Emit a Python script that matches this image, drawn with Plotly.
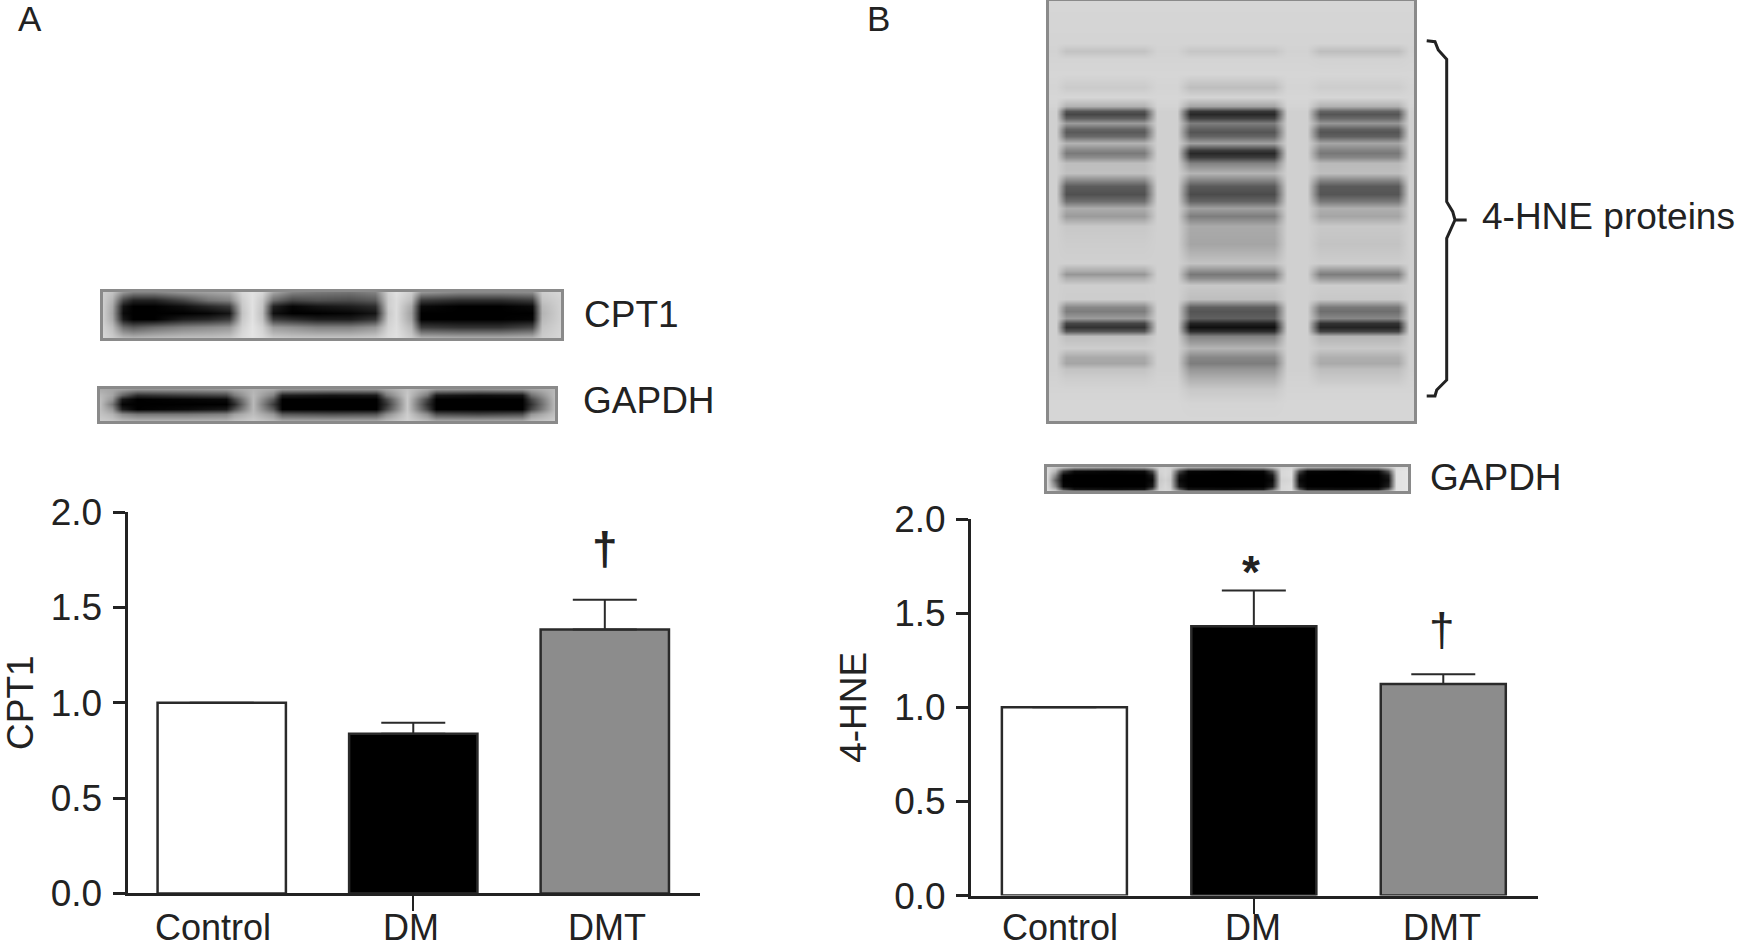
import plotly.graph_objects as go

W, H = 1738, 949

groups = ["Control", "DM", "DMT"]
colors = ["#ffffff", "#000000", "#8c8c8c"]

cpt1_values = [1.0, 0.837, 1.384]
cpt1_err = [0, 0.058, 0.156]
hne_values = [1.0, 1.43, 1.124]
hne_err = [0, 0.19, 0.052]

y_ticks = [0, 0.5, 1.0, 1.5, 2.0]

# blot grey levels (0 black, 255 white)
cpt1_x = [48, 70, 95, 120, 170, 240, 300, 350, 380, 405, 430, 455, 500, 560, 640, 700, 730, 750, 785, 810, 900, 1000, 1075, 1100, 1145]
cpt1_y = [65, 90, 110, 130, 150, 175, 210]
cpt1_z = [
    [205, 195, 150, 130, 130, 150, 160, 170, 215, 225, 215, 165, 130, 120, 115, 130, 210, 225, 205, 150, 135, 135, 140, 205, 215],
    [205, 180, 70, 35, 35, 70, 115, 130, 205, 225, 200, 110, 70, 80, 75, 90, 205, 220, 190, 60, 45, 45, 60, 195, 210],
    [205, 170, 20, 0, 0, 15, 40, 60, 200, 225, 195, 35, 5, 20, 30, 45, 205, 220, 170, 10, 0, 0, 10, 185, 210],
    [205, 165, 10, 0, 0, 0, 5, 20, 195, 225, 190, 15, 0, 0, 5, 20, 200, 220, 160, 0, 0, 0, 0, 180, 210],
    [205, 170, 25, 0, 0, 30, 40, 60, 200, 225, 195, 60, 45, 30, 30, 55, 205, 220, 165, 0, 0, 0, 5, 185, 210],
    [210, 190, 110, 90, 110, 130, 140, 150, 210, 228, 210, 155, 145, 130, 130, 150, 212, 222, 185, 60, 50, 50, 70, 195, 212],
    [215, 205, 190, 185, 190, 195, 195, 200, 220, 228, 220, 205, 200, 200, 200, 205, 220, 225, 205, 185, 180, 180, 185, 205, 215],
]

gapdh_a_x = [42, 70, 95, 130, 250, 345, 365, 410, 458, 480, 600, 705, 728, 780, 828, 850, 950, 1055, 1078, 1135]
gapdh_a_y = [350, 370, 385, 400, 418, 435, 460]
gapdh_a_z = [
    [170, 165, 160, 150, 150, 155, 165, 180, 170, 150, 145, 145, 165, 195, 170, 150, 145, 150, 165, 185],
    [185, 165, 100, 45, 60, 70, 120, 185, 130, 30, 20, 25, 120, 200, 120, 25, 15, 20, 110, 190],
    [190, 150, 25, 0, 5, 10, 70, 185, 90, 0, 0, 0, 70, 200, 70, 0, 0, 0, 70, 190],
    [190, 120, 5, 0, 0, 0, 40, 185, 60, 0, 0, 0, 50, 200, 50, 0, 0, 0, 50, 190],
    [190, 150, 30, 0, 10, 25, 80, 185, 90, 0, 0, 0, 70, 200, 70, 0, 0, 0, 70, 190],
    [195, 180, 140, 120, 120, 130, 160, 190, 150, 90, 80, 85, 140, 205, 140, 80, 70, 80, 150, 195],
    [205, 200, 190, 185, 185, 185, 195, 205, 190, 175, 175, 175, 190, 210, 190, 175, 175, 175, 195, 205],
]

gapdh_b_x = [48, 72, 95, 130, 250, 340, 365, 388, 405, 420, 448, 475, 590, 700, 728, 755, 785, 810, 835, 950, 1050, 1078, 1105, 1140]
gapdh_b_y = [1398, 1412, 1425, 1442, 1460, 1470, 1478]
gapdh_b_z = [
    [215, 205, 190, 170, 165, 170, 190, 210, 215, 210, 190, 170, 165, 170, 190, 212, 215, 190, 170, 165, 170, 195, 220, 225],
    [220, 180, 60, 10, 5, 10, 70, 210, 215, 210, 70, 5, 0, 5, 70, 215, 220, 70, 5, 0, 10, 80, 225, 230],
    [220, 140, 5, 0, 0, 0, 25, 205, 215, 205, 25, 0, 0, 0, 25, 215, 220, 25, 0, 0, 0, 30, 225, 230],
    [220, 100, 0, 0, 0, 0, 10, 200, 210, 200, 10, 0, 0, 0, 10, 210, 215, 10, 0, 0, 0, 15, 225, 230],
    [220, 140, 5, 0, 0, 0, 25, 205, 215, 205, 25, 0, 0, 0, 25, 215, 220, 25, 0, 0, 0, 30, 225, 230],
    [220, 185, 70, 20, 15, 20, 90, 210, 215, 210, 90, 20, 15, 25, 95, 215, 220, 90, 20, 15, 25, 100, 225, 230],
    [225, 215, 190, 175, 170, 175, 195, 215, 220, 215, 195, 175, 175, 175, 195, 220, 225, 195, 175, 175, 180, 200, 230, 230],
]

# main 4-HNE blot: y position, then grey level in lanes 1-3
hne_lane_y = [5, 130, 155, 178, 225, 262, 292, 320, 335, 345, 357, 372, 388, 398, 410, 430, 452, 462, 474, 490, 520,
              545, 560, 585, 605, 625, 650, 680, 735, 790, 815, 825, 837, 858, 900, 922, 935, 955, 972, 983, 995,
              1010, 1045, 1072, 1090, 1110, 1135, 1170, 1210, 1265]
hne_lane1 = [214, 212, 195, 212, 214, 203, 214, 178, 85, 70, 95, 155, 100, 90, 105, 178, 135, 122, 140, 190, 192,
             130, 92, 80, 110, 172, 155, 200, 205, 208, 170, 150, 175, 206, 205, 135, 125, 155, 70, 50, 85,
             190, 205, 170, 165, 195, 205, 212, 214, 214]
hne_lane2 = [214, 212, 198, 212, 214, 190, 212, 165, 55, 40, 65, 125, 95, 85, 100, 160, 60, 40, 60, 130, 180,
             125, 90, 75, 100, 160, 125, 170, 165, 195, 140, 120, 140, 200, 190, 95, 85, 95, 35, 15, 45,
             130, 180, 135, 125, 150, 175, 200, 212, 214]
hne_lane3 = [214, 212, 190, 210, 214, 205, 214, 178, 100, 85, 105, 150, 95, 85, 95, 165, 130, 120, 135, 185, 190,
             125, 90, 85, 120, 175, 165, 200, 195, 205, 145, 125, 150, 205, 200, 120, 110, 135, 50, 35, 65,
             180, 200, 175, 170, 190, 200, 212, 214, 214]
hne_bg = [214, 212, 210, 212, 214, 212, 214, 212] + [208] * 38 + [210, 212, 214, 214]
# x stops across the blot and the lane each stop belongs to (0 = gap)
hne_x = [52, 72, 105, 340, 378, 440, 478, 735, 772, 835, 872, 1110, 1142, 1158]
hne_x_lane = [0, 0, 1, 1, 0, 0, 2, 2, 0, 0, 3, 3, 0, 0]

lanes = {0: hne_bg, 1: hne_lane1, 2: hne_lane2, 3: hne_lane3}
hne_z = [[lanes[k][i] for k in hne_x_lane] for i in range(len(hne_lane_y))]

# brace next to the big blot, in page pixels
brace_x = [1426.7, 1435, 1438.3, 1446.7, 1446.7, 1452.7, 1455, 1466.7, 1455, 1446.7, 1446.7, 1436.7, 1435, 1426.7]
brace_y = [40.7, 41.7, 50, 59.3, 201.7, 211.7, 220, 220, 220, 238.3, 380, 390, 396, 396]


def px(x):
    return x / W


def py(y):
    return 1 - y / H


FONT = "Liberation Sans"
INK = "#222222"

fig = go.Figure()


def add_bars(values, err, n, width):
    fig.add_trace(go.Bar(
        x=groups, y=values, width=width,
        xaxis=f"x{n}", yaxis=f"y{n}",
        marker=dict(color=colors, line=dict(color="#2a2a2a", width=2.5)),
        error_y=dict(type="data", symmetric=False, array=err, arrayminus=[0, 0, 0],
                     color="#2a2a2a", thickness=2, width=32),
        showlegend=False,
    ))


def add_blot(x, y, z, n):
    fig.add_trace(go.Heatmap(
        x=x, y=y, z=z, xaxis=f"x{n}", yaxis=f"y{n}",
        zmin=0, zmax=255, zsmooth="best", showscale=False, hoverinfo="skip",
        colorscale=[[0, "#000000"], [1, "#ffffff"]],
    ))


add_bars(cpt1_values, cpt1_err, 1, 0.67)
add_bars(hne_values, hne_err, 2, 0.66)
add_blot(cpt1_x, cpt1_y, cpt1_z, 3)
add_blot(gapdh_a_x, gapdh_a_y, gapdh_a_z, 4)
add_blot(hne_x, hne_lane_y, hne_z, 5)
add_blot(gapdh_b_x, gapdh_b_y, gapdh_b_z, 6)

layout = dict(
    width=W, height=H, margin=dict(l=0, r=0, t=0, b=0, autoexpand=False),
    paper_bgcolor="white", plot_bgcolor="white",
    font=dict(family=FONT, size=37, color=INK),
    showlegend=False, bargap=0.33,
)


def bar_axes(n, x0, x1, y0, y1, xrange, title, standoff):
    layout[f"xaxis{n}"] = dict(
        domain=[px(x0), px(x1)], range=xrange, anchor=f"y{n}", type="category",
        categoryorder="array", categoryarray=groups,
        showgrid=False, zeroline=False, showline=True, linecolor=INK, linewidth=3,
        ticks="outside", ticklen=15, tickwidth=2, tickcolor=INK,
        tickmode="array", tickvals=["DM"], showticklabels=False,
    )
    layout[f"yaxis{n}"] = dict(
        domain=[py(y1), py(y0)], range=[0, 2], anchor=f"x{n}",
        showgrid=False, zeroline=False, showline=True, linecolor=INK, linewidth=3,
        ticks="outside", ticklen=12, tickwidth=3, tickcolor=INK,
        tickmode="array", tickvals=y_ticks, ticktext=[f"{t:.1f}" for t in y_ticks],
        tickfont=dict(size=37), ticklabelstandoff=3,
        title=dict(text=title, font=dict(size=37), standoff=standoff),
    )


def blot_axes(n, x0, x1, y0, y1, xrange, yrange):
    common = dict(showgrid=False, zeroline=False, showticklabels=False, ticks="",
                  showline=True, mirror=True, linecolor="#8a8a8a", linewidth=2.5)
    layout[f"xaxis{n}"] = dict(domain=[px(x0), px(x1)], range=xrange, anchor=f"y{n}", **common)
    layout[f"yaxis{n}"] = dict(domain=[py(y1), py(y0)], range=yrange, anchor=f"x{n}", **common)


bar_axes(1, 127.5, 700, 512, 893.4, [-0.492, 2.497], "CPT1", 24)
bar_axes(2, 971, 1538, 519, 895.6, [-0.493, 2.5], "4-HNE", 17)
blot_axes(3, 103, 561, 292, 338, [48, 1145], [210, 65])
blot_axes(4, 100, 555, 389, 421, [42, 1135], [460, 350])
blot_axes(5, 1049, 1414, 1, 421, [52, 1158], [1265, 5])
blot_axes(6, 1047, 1408, 467, 491, [48, 1140], [1478, 1398])

fig.update_layout(**layout)


def note(text, x, y, size=37, anchor="center", **kw):
    fig.add_annotation(text=text, x=px(x), y=py(y), xref="paper", yref="paper", showarrow=False,
                       xanchor=anchor, yanchor="middle", font=dict(size=size, family=FONT, color=INK), **kw)


note("A", 30, 19, 35)
note("B", 878, 19, 35)
note("CPT1", 582, 315, anchor="left")
note("GAPDH", 581, 401, anchor="left")
note("GAPDH", 1428, 478, anchor="left")
note("4-HNE proteins", 1480, 217, anchor="left")

for label, xa, xb in zip(groups, [213, 411, 607], [1060, 1252.5, 1442]):
    note(label, xa, 927, 36)
    note(label, xb, 927, 36)

note("<b>†</b>", 605, 549, 46)
note("<b>*</b>", 1251, 572, 46)
note("†", 1442, 630, 46)

path = "M " + " L ".join(f"{px(x):.5f},{py(y):.5f}" for x, y in zip(brace_x, brace_y))
fig.add_shape(type="path", path=path, xref="paper", yref="paper", line=dict(color=INK, width=3))

fig.write_html("out.html", config={"displayModeBar": False},
               post_script="document.body.style.margin='0';document.body.style.overflow='hidden';")
